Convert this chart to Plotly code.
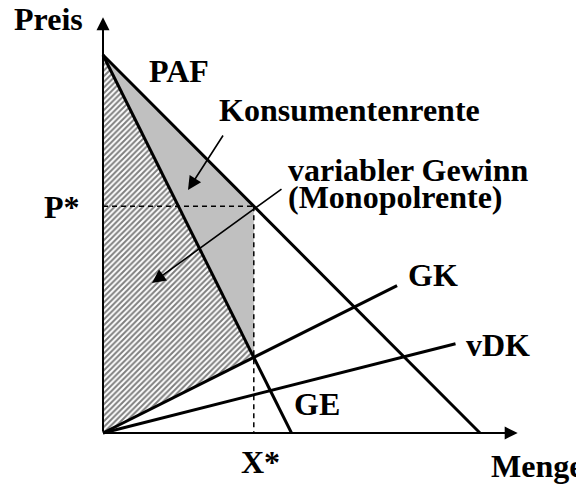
import plotly.graph_objects as go

# ---- data (economic diagram, arbitrary units) ----
paf_menge = [0, 10]
paf_preis = [10, 0]
ge_menge = [0, 5]
ge_preis = [10, 0]
gk_menge = [0, 7.8]
gk_wert = [0, 3.9]
vdk_menge = [0, 9.35]
vdk_wert = [0, 2.36]
x_star = 4
p_star = 6
ge_at_xstar = 2
axis_max = [11, 11]

# page body has an 8px margin; figure is sized/offset to compensate
OFF = 8
W, H = 584 - OFF, 485 - OFF
X0, Y0, SX, SY = 103 - OFF, 433 - OFF, 37.7, 37.8
def dx(px):
    return (px - OFF - X0) / SX
def dy(py):
    return (Y0 - (py - OFF)) / SY

FONT = "Liberation Serif"
fig = go.Figure()

# hatched area (variabler Gewinn)
fig.add_trace(go.Scatter(
    x=[0, 0, x_star, 0], y=[paf_preis[0], 0, ge_at_xstar, paf_preis[0]],
    mode="lines", fill="toself", line=dict(width=0),
    fillcolor="white",
    fillpattern=dict(shape="/", fgcolor="black", bgcolor="white", size=4, solidity=0.5),
    hoverinfo="skip", showlegend=False))

# gray area (Konsumentenrente)
fig.add_trace(go.Scatter(
    x=[0, x_star, x_star, 0], y=[paf_preis[0], p_star, ge_at_xstar, paf_preis[0]],
    mode="lines", fill="toself", line=dict(width=0), fillcolor="#c0c0c0",
    hoverinfo="skip", showlegend=False))

# dashed guides
fig.add_trace(go.Scatter(x=[0, x_star], y=[p_star, p_star], mode="lines",
                         line=dict(color="black", width=1.5, dash="5px,4px"),
                         hoverinfo="skip", showlegend=False))
fig.add_trace(go.Scatter(x=[x_star, x_star], y=[p_star, 0], mode="lines",
                         line=dict(color="black", width=1.5, dash="5px,4px"),
                         hoverinfo="skip", showlegend=False))

# main lines
for xs, ys in [(paf_menge, paf_preis), (ge_menge, ge_preis), (gk_menge, gk_wert), (vdk_menge, vdk_wert)]:
    fig.add_trace(go.Scatter(x=xs, y=ys, mode="lines", line=dict(color="black", width=3),
                             hoverinfo="skip", showlegend=False))

# axes with arrows
fig.add_annotation(x=0, y=axis_max[1], ax=0, ay=0, xref="x", yref="y", axref="x", ayref="y",
                   showarrow=True, arrowhead=2, arrowsize=1.3, arrowwidth=2, arrowcolor="black",
                   text="", standoff=0)
fig.add_annotation(x=axis_max[0], y=0, ax=0, ay=0, xref="x", yref="y", axref="x", ayref="y",
                   showarrow=True, arrowhead=2, arrowsize=1.3, arrowwidth=2, arrowcolor="black",
                   text="", standoff=0)

# pointer arrows
fig.add_annotation(x=dx(188), y=dy(190), ax=dx(224), ay=dy(134), xref="x", yref="y",
                   axref="x", ayref="y", showarrow=True, arrowhead=2, arrowsize=1.7,
                   arrowwidth=1.6, arrowcolor="black", text="", standoff=0)
fig.add_annotation(x=dx(152), y=dy(283), ax=dx(283), ay=dy(188), xref="x", yref="y",
                   axref="x", ayref="y", showarrow=True, arrowhead=2, arrowsize=1.7,
                   arrowwidth=1.6, arrowcolor="black", text="", standoff=0)

# labels: (text, left px, cap-center px) in reference screen pixels
labels = [
    ("Preis", 13, 22),
    ("PAF", 148, 74),
    ("Konsumentenrente", 218, 113),
    ("variabler Gewinn", 287, 173),
    ("(Monopolrente)", 287, 200),
    ("P*", 43, 210),
    ("GK", 407, 278),
    ("vDK", 465, 348),
    ("GE", 293, 407),
    ("X*", 240, 465),
    ("Menge", 490, 469),
]
for t, lx, cy in labels:
    fig.add_annotation(x=dx(lx), y=dy(cy - 3), xref="x", yref="y", text="<b>%s</b>" % t,
                       showarrow=False, xanchor="left", yanchor="middle", xshift=-1,
                       font=dict(family=FONT, size=32, color="black"))

fig.update_xaxes(range=[dx(OFF), dx(OFF + W)], visible=False, fixedrange=True)
fig.update_yaxes(range=[dy(OFF + H), dy(OFF)], visible=False, fixedrange=True)
fig.update_layout(width=W, height=H, margin=dict(l=0, r=0, t=0, b=0),
                  paper_bgcolor="white", plot_bgcolor="white", autosize=False)
fig.write_html("out.html")
